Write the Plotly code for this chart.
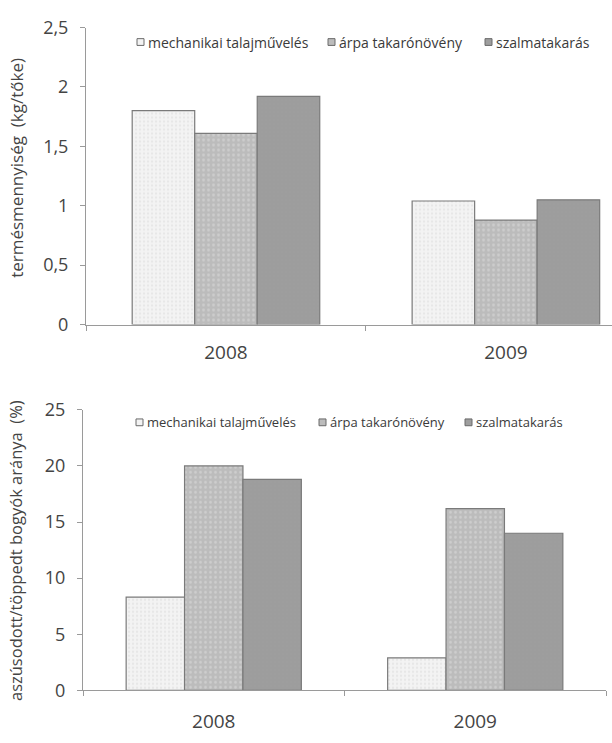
import plotly.graph_objects as go

years = ["2008", "2009"]
series_names = ["mechanikai talajművelés", "árpa takarónövény", "szalmatakarás"]
yield_values = [[1.80, 1.04], [1.61, 0.88], [1.92, 1.05]]
shrivel_values = [[8.3, 2.9], [20.0, 16.2], [18.8, 14.0]]

top_tickvals = [0, 0.5, 1, 1.5, 2, 2.5]
top_ticktext = ["0", "0,5", "1", "1,5", "2", "2,5"]
bottom_tickvals = [0, 5, 10, 15, 20, 25]
bottom_ticktext = ["0", "5", "10", "15", "20", "25"]

top_title = "termésmennyiség  (kg/tőke)"
bottom_title = "aszúsodott/töppedt bogyók aránya  (%)"

W, H = 612, 743
FONT = "Open Sans"
AX = "#9a9a9a"
TXT = "#444444"

styles = [
    dict(bg="#f3f3f3", fg="#d9d9d9", shape=".", size=4, sol=0.25),
    dict(bg="#bcbcbc", fg="#dedede", shape=".", size=5, sol=0.25),
    dict(bg="#9e9e9e", fg="#8e8e8e", shape="+", size=4, sol=0.15),
]

fig = go.Figure()
for i, name in enumerate(series_names):
    s = styles[i]
    common = dict(
        marker=dict(
            color=s["bg"],
            line=dict(color="#7a7a7a", width=1.2),
            pattern=dict(shape=s["shape"], fgcolor=s["fg"], bgcolor=s["bg"],
                         size=s["size"], solidity=s["sol"]),
        ),
        name=name,
        hoverinfo="skip",
        showlegend=False,
    )
    fig.add_trace(go.Bar(x=years, y=yield_values[i], xaxis="x", yaxis="y", **common))
    fig.add_trace(go.Bar(x=years, y=shrivel_values[i], xaxis="x2", yaxis="y2", **common))


def px_y(p):
    return 1 - p / H


def px_x(p):
    return p / W


axis_common = dict(
    showgrid=False, zeroline=False, showline=True, linecolor=AX, linewidth=1,
    ticks="outside", tickcolor=AX, ticklen=5, fixedrange=True,
)

# compact legends (box + text), positions in pixels
legend_rows = [
    dict(y=30, boxes=[137, 328, 485], size=14),
    dict(y=423, boxes=[136, 319, 465], size=13),
]

shapes = []
annotations = [
    dict(text=top_title, textangle=-90, x=px_x(17), y=px_y(160),
         xanchor="center", yanchor="middle",
         xref="paper", yref="paper", showarrow=False,
         font=dict(size=17, color=TXT)),
    dict(text=bottom_title, textangle=-90, x=px_x(15), y=px_y(556),
         xanchor="center", yanchor="middle",
         xref="paper", yref="paper", showarrow=False,
         font=dict(size=16.5, color=TXT)),
]
for row in legend_rows:
    for i, bx in enumerate(row["boxes"]):
        s = styles[i]
        shapes.append(dict(type="rect", xref="paper", yref="paper",
                           x0=px_x(bx), x1=px_x(bx + 7),
                           y0=px_y(row["y"] + 3.5), y1=px_y(row["y"] - 3.5),
                           fillcolor=s["bg"], line=dict(color="#6a6a6a", width=1)))
        annotations.append(dict(text=series_names[i], x=px_x(bx + 9), y=px_y(row["y"]),
                                xanchor="left", yanchor="middle",
                                xref="paper", yref="paper", showarrow=False,
                                font=dict(size=row["size"], color="#3a3a3a")))

fig.update_layout(
    width=W, height=H,
    margin=dict(l=0, r=0, t=0, b=0),
    paper_bgcolor="white", plot_bgcolor="white",
    font=dict(family=FONT, color=TXT),
    barmode="group", bargap=0.33, bargroupgap=0,
    showlegend=False,
    hovermode=False,
    xaxis=dict(domain=[px_x(86), 1], range=[-0.5, 1.379], anchor="y",
               tickson="boundaries", tickfont=dict(size=19, color=TXT),
               ticklabelstandoff=11, **axis_common),
    yaxis=dict(domain=[px_y(322), px_y(15)], range=[0, 2.5], anchor="x",
               tickvals=top_tickvals, ticktext=top_ticktext,
               tickfont=dict(size=18, color=TXT), ticklabelstandoff=8,
               **axis_common),
    xaxis2=dict(domain=[px_x(83), px_x(606)], range=[-0.5, 1.5], anchor="y2",
                tickson="boundaries", tickfont=dict(size=19, color=TXT),
                ticklabelstandoff=14, **axis_common),
    yaxis2=dict(domain=[px_y(700), px_y(410)], range=[0, 25], anchor="x2",
                tickvals=bottom_tickvals, ticktext=bottom_ticktext,
                tickfont=dict(size=18, color=TXT), ticklabelstandoff=8,
                **axis_common),
    shapes=shapes,
    annotations=annotations,
)

fig.write_html(
    "out.html",
    config={"displayModeBar": False, "staticPlot": True},
    post_script="document.body.style.margin='0';document.body.style.overflow='hidden';",
)
